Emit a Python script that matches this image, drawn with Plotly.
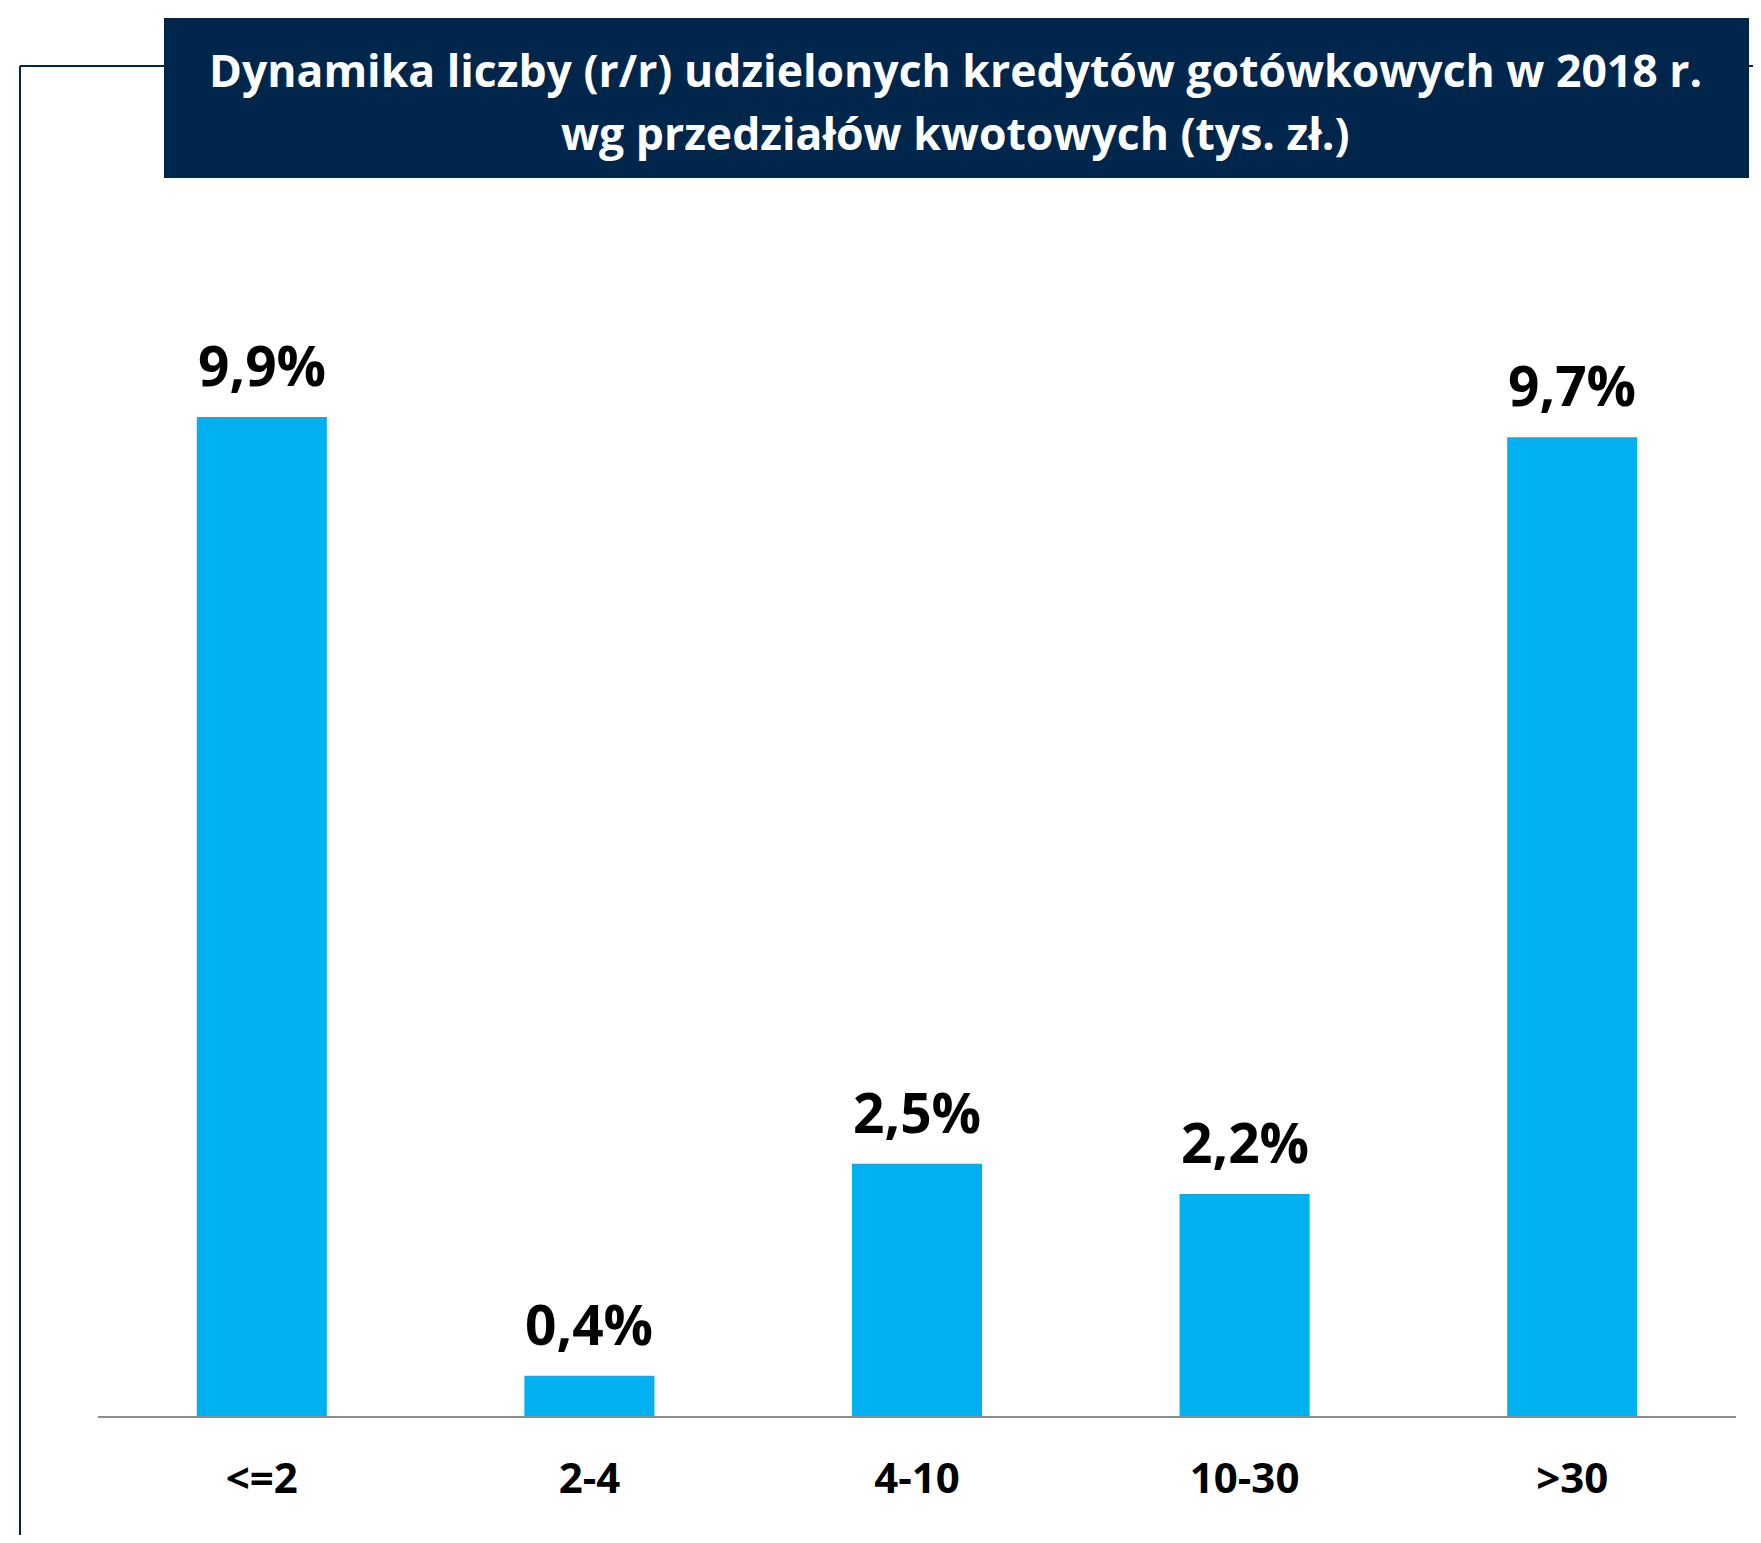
import plotly.graph_objects as go

categories = ["<=2", "2-4", "4-10", "10-30", ">30"]
values = [9.9, 0.4, 2.5, 2.2, 9.7]
value_labels = ["9,9%", "0,4%", "2,5%", "2,2%", "9,7%"]
title_lines = ["Dynamika liczby (r/r) udzielonych kredytów gotówkowych w 2018 r.",
               "wg przedziałów kwotowych (tys. zł.)"]

OFF = 8  # page body margin
W, H = 1761 - 2 * OFF, 1543 - 2 * OFF
FONT = "Open Sans"
NAVY = "#00264B"
BAR = "#00B0F0"

def px_x(x):
    return (x - OFF) / W

def px_y(y):
    return 1 - (y - OFF) / H

fig = go.Figure()
fig.add_trace(go.Bar(
    x=categories, y=values, marker=dict(color=BAR, line=dict(width=0)),
    width=0.397, hoverinfo="skip",
))

for c, v, t in zip(categories, values, value_labels):
    fig.add_annotation(x=c, y=v, text=f"<b>{t}</b>", showarrow=False,
                       xref="x", yref="y", yanchor="bottom", yshift=13,
                       font=dict(family=FONT, size=55, color="#000000"))

# title box
fig.add_shape(type="rect", xref="paper", yref="paper",
              x0=px_x(164), x1=px_x(1749), y0=px_y(178), y1=px_y(18),
              fillcolor=NAVY, line=dict(width=0), layer="above")
for line_text, ly in zip(title_lines, [70, 132]):
    fig.add_annotation(xref="paper", yref="paper", x=px_x(956), y=px_y(ly),
                       xanchor="center", yanchor="middle", showarrow=False,
                       text="<b>" + line_text + "</b>",
                       font=dict(family=FONT, size=44.5, color="#FFFFFF"))

# frame lines
frame = dict(color=NAVY, width=2)
fig.add_shape(type="line", xref="paper", yref="paper",
              x0=px_x(20), x1=px_x(20), y0=0, y1=px_y(66), line=frame)
fig.add_shape(type="line", xref="paper", yref="paper",
              x0=px_x(20), x1=px_x(164), y0=px_y(66), y1=px_y(66), line=frame)
fig.add_shape(type="line", xref="paper", yref="paper",
              x0=px_x(1749), x1=1, y0=px_y(66), y1=px_y(66), line=frame)

fig.update_layout(
    width=W, height=H,
    margin=dict(l=0, r=0, t=0, b=0),
    paper_bgcolor="white", plot_bgcolor="white",
    showlegend=False,
    xaxis=dict(domain=[px_x(98), px_x(1736)], range=[-0.5, 4.5],
               showline=True, linecolor="#8C8C8C", linewidth=2,
               showgrid=False, zeroline=False, ticks="",
               ticklabelstandoff=25,
               tickfont=dict(family=FONT, size=42, color="#000000"),
               tickvals=categories,
               ticktext=[f"<b>{c}</b>" for c in categories]),
    yaxis=dict(domain=[px_y(1416), px_y(200)], range=[0, 12.05],
               visible=False, showgrid=False, zeroline=False),
)

fig.write_html("out.html", config={"displayModeBar": False})
